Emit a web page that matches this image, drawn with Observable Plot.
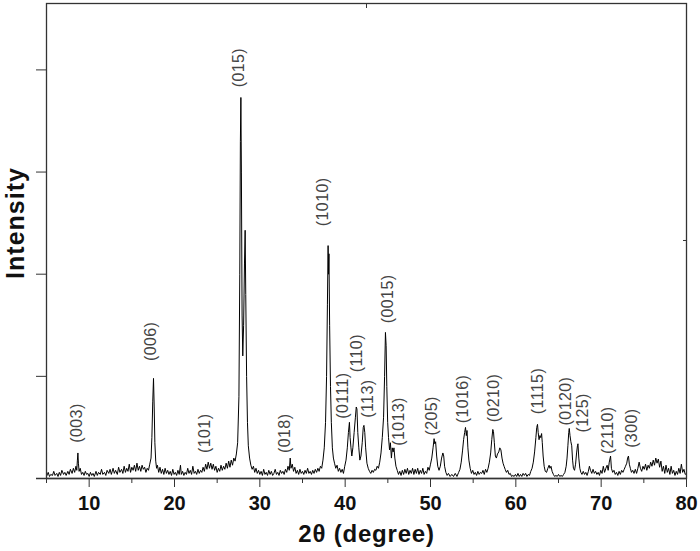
<!DOCTYPE html>
<html>
<head>
<meta charset="utf-8">
<script src="https://cdn.jsdelivr.net/npm/d3@7"></script>
<script src="https://cdn.jsdelivr.net/npm/@observablehq/plot@0.6"></script>
<style>
  html, body { margin: 0; padding: 0; background: #fff; }
</style>
</head>
<body>
<div id="chart"></div>
<script>
// XRD scan: [2θ (degree), intensity (a.u.)]
const scan = [
[5.0,.02],[5.2,.06],[5.35,.02],[5.5,.04],[5.7,.03],[5.85,.07],[6.0,.03],[6.2,.05],[6.35,.02],[6.5,.06],
[6.65,.03],[6.8,.08],[7.0,.04],[7.15,.06],[7.3,.03],[7.5,.07],[7.65,.04],[7.8,.09],[8.0,.05],[8.15,.1],
[8.3,.06],[8.45,.12],[8.55,.08],[8.62,.18],[8.68,.25],[8.74,.15],[8.82,.07],[8.95,.1],[9.1,.04],[9.25,.06],
[9.4,.03],[9.55,.07],[9.7,.04],[9.85,.05],[10.0,.02],[10.15,.06],[10.3,.03],[10.45,.05],[10.6,.02],[10.8,.07],
[10.95,.03],[11.1,.06],[11.3,.04],[11.45,.09],[11.6,.04],[11.8,.06],[11.95,.03],[12.1,.08],[12.3,.05],[12.45,.09],
[12.6,.04],[12.8,.1],[12.95,.05],[13.1,.08],[13.3,.04],[13.45,.11],[13.6,.06],[13.8,.09],[13.95,.05],[14.1,.12],
[14.25,.06],[14.4,.1],[14.55,.07],[14.7,.14],[14.85,.06],[15.0,.11],[15.15,.08],[15.3,.13],[15.45,.07],[15.6,.15],
[15.75,.08],[15.9,.12],[16.05,.07],[16.2,.13],[16.35,.09],[16.5,.11],[16.65,.06],[16.8,.1],[16.95,.08],[17.1,.14],
[17.25,.2],[17.35,.4],[17.45,.75],[17.54,.98],[17.62,.7],[17.7,.35],[17.8,.17],[17.9,.1],[18.0,.13],[18.15,.06],
[18.3,.11],[18.45,.05],[18.6,.09],[18.75,.04],[18.9,.1],[19.05,.05],[19.2,.08],[19.35,.04],[19.5,.07],[19.65,.03],
[19.8,.09],[19.95,.04],[20.1,.06],[20.25,.03],[20.4,.08],[20.55,.04],[20.7,.13],[20.8,.04],[20.95,.07],[21.1,.03],
[21.25,.06],[21.4,.04],[21.55,.1],[21.7,.05],[21.85,.08],[22.0,.04],[22.15,.12],[22.3,.05],[22.45,.07],[22.6,.04],
[22.75,.09],[22.9,.05],[23.05,.08],[23.2,.06],[23.35,.11],[23.5,.07],[23.65,.14],[23.8,.09],[23.95,.16],[24.1,.1],
[24.25,.15],[24.4,.09],[24.55,.14],[24.7,.08],[24.85,.12],[25.0,.06],[25.15,.1],[25.3,.07],[25.45,.13],[25.6,.08],
[25.75,.12],[25.9,.09],[26.05,.15],[26.2,.1],[26.35,.17],[26.5,.11],[26.65,.18],[26.8,.13],[26.95,.2],[27.1,.17],
[27.25,.24],[27.4,.35],[27.55,.8],[27.65,2.0],[27.72,3.3],[27.78,3.73],[27.84,3.0],[27.92,1.6],[28.0,1.2],[28.1,1.5],
[28.2,2.1],[28.28,2.43],[28.35,1.8],[28.45,1.0],[28.55,.55],[28.65,.32],[28.8,.2],[28.95,.13],[29.1,.09],[29.25,.12],
[29.4,.06],[29.55,.1],[29.7,.05],[29.85,.08],[30.0,.04],[30.15,.07],[30.3,.03],[30.45,.09],[30.6,.04],[30.75,.06],
[30.9,.03],[31.05,.08],[31.2,.04],[31.35,.07],[31.5,.03],[31.65,.05],[31.8,.09],[31.95,.04],[32.1,.06],[32.25,.03],
[32.4,.08],[32.55,.05],[32.7,.07],[32.85,.04],[33.0,.09],[33.15,.06],[33.3,.12],[33.45,.08],[33.56,.2],[33.65,.1],
[33.8,.14],[33.95,.07],[34.1,.11],[34.25,.05],[34.4,.08],[34.55,.04],[34.7,.09],[34.85,.05],[35.0,.07],[35.15,.04],
[35.3,.08],[35.45,.05],[35.6,.1],[35.75,.05],[35.9,.07],[36.05,.04],[36.2,.08],[36.35,.05],[36.5,.09],[36.65,.06],
[36.8,.1],[36.95,.07],[37.1,.12],[37.25,.1],[37.4,.18],[37.55,.3],[37.7,.55],[37.82,1.0],[37.92,1.7],[38.0,2.28],
[38.05,2.0],[38.1,2.2],[38.18,1.5],[38.28,.9],[38.38,.55],[38.5,.3],[38.62,.2],[38.75,.15],[38.9,.1],[39.05,.13],
[39.2,.07],[39.35,.1],[39.5,.06],[39.65,.09],[39.8,.05],[39.95,.12],[40.1,.18],[40.25,.3],[40.38,.45],[40.5,.55],
[40.58,.4],[40.68,.3],[40.78,.22],[40.9,.3],[41.05,.45],[41.2,.6],[41.3,.7],[41.38,.68],[41.48,.45],[41.6,.3],
[41.72,.18],[41.85,.22],[42.0,.35],[42.12,.5],[42.2,.52],[42.3,.45],[42.4,.3],[42.55,.15],[42.7,.1],[42.85,.07],
[43.0,.05],[43.15,.08],[43.3,.06],[43.45,.09],[43.6,.08],[43.75,.12],[43.9,.1],[44.05,.16],[44.2,.25],[44.35,.4],
[44.5,.6],[44.62,1.0],[44.72,1.43],[44.8,1.3],[44.88,.9],[44.98,.55],[45.08,.4],[45.2,.28],[45.3,.35],[45.42,.2],
[45.52,.3],[45.62,.26],[45.72,.3],[45.82,.2],[45.95,.12],[46.1,.08],[46.25,.04],[46.4,.07],[46.55,.03],[46.7,.08],
[46.85,.04],[47.0,.09],[47.15,.05],[47.3,.1],[47.45,.04],[47.6,.08],[47.75,.05],[47.9,.1],[48.05,.04],[48.2,.09],
[48.35,.05],[48.5,.1],[48.65,.04],[48.8,.08],[48.95,.05],[49.1,.1],[49.25,.04],[49.4,.07],[49.55,.05],[49.7,.11],
[49.85,.08],[50.0,.14],[50.15,.2],[50.3,.3],[50.42,.39],[50.5,.34],[50.6,.36],[50.72,.22],[50.85,.12],[51.0,.08],
[51.15,.12],[51.3,.2],[51.45,.25],[51.55,.22],[51.65,.12],[51.8,.06],[51.95,.03],[52.1,.05],[52.3,.02],[52.5,.04],
[52.7,.02],[52.9,.05],[53.1,.02],[53.3,.06],[53.45,.09],[53.6,.16],[53.75,.27],[53.88,.38],[54.0,.45],[54.1,.5],
[54.2,.42],[54.28,.47],[54.38,.3],[54.5,.18],[54.65,.1],[54.8,.05],[54.95,.08],[55.1,.04],[55.25,.06],[55.4,.03],
[55.55,.07],[55.7,.04],[55.85,.06],[56.0,.05],[56.15,.08],[56.3,.04],[56.45,.09],[56.6,.06],[56.75,.1],[56.9,.16],
[57.05,.25],[57.18,.38],[57.3,.48],[57.38,.46],[57.48,.35],[57.6,.22],[57.72,.2],[57.85,.24],[58.0,.26],[58.12,.3],
[58.25,.28],[58.38,.2],[58.5,.15],[58.62,.12],[58.75,.09],[58.9,.06],[59.05,.08],[59.2,.04],[59.35,.05],[59.5,.02],
[59.65,.03],[59.8,.02],[59.95,.04],[60.1,.02],[60.25,.05],[60.4,.02],[60.55,.04],[60.7,.02],[60.85,.05],[61.0,.03],
[61.15,.05],[61.3,.02],[61.45,.04],[61.6,.03],[61.75,.07],[61.9,.1],[62.05,.16],[62.2,.26],[62.35,.4],[62.45,.5],
[62.54,.53],[62.62,.45],[62.72,.38],[62.82,.42],[62.92,.4],[63.02,.44],[63.1,.35],[63.2,.22],[63.32,.12],[63.45,.07],
[63.6,.06],[63.75,.1],[63.9,.13],[64.0,.1],[64.12,.12],[64.25,.07],[64.4,.04],[64.55,.02],[64.7,.03],[64.85,.02],
[65.0,.04],[65.15,.02],[65.3,.03],[65.45,.02],[65.6,.04],[65.75,.06],[65.9,.12],[66.0,.2],[66.1,.32],[66.2,.45],
[66.26,.49],[66.35,.42],[66.45,.36],[66.55,.32],[66.65,.18],[66.75,.1],[66.88,.08],[67.0,.14],[67.12,.25],[67.22,.32],
[67.28,.34],[67.38,.2],[67.5,.1],[67.62,.06],[67.75,.04],[67.9,.07],[68.05,.04],[68.2,.06],[68.35,.03],[68.5,.07],
[68.62,.12],[68.75,.08],[68.9,.05],[69.05,.09],[69.2,.05],[69.35,.07],[69.5,.04],[69.65,.06],[69.8,.03],[69.95,.08],
[70.1,.05],[70.25,.12],[70.4,.06],[70.55,.1],[70.7,.13],[70.82,.08],[70.95,.16],[71.1,.22],[71.2,.1],[71.35,.06],
[71.5,.08],[71.65,.04],[71.8,.06],[71.95,.03],[72.1,.07],[72.25,.04],[72.4,.08],[72.55,.06],[72.7,.09],[72.85,.12],
[73.0,.15],[73.1,.2],[73.2,.22],[73.3,.14],[73.42,.1],[73.55,.06],[73.7,.08],[73.85,.05],[74.0,.09],[74.15,.05],
[74.3,.1],[74.45,.16],[74.6,.1],[74.75,.07],[74.9,.12],[75.05,.09],[75.2,.14],[75.35,.08],[75.5,.13],[75.65,.1],
[75.8,.16],[75.95,.12],[76.1,.18],[76.25,.13],[76.4,.2],[76.55,.15],[76.7,.19],[76.85,.11],[77.0,.17],[77.15,.07],
[77.3,.12],[77.45,.05],[77.6,.13],[77.75,.06],[77.9,.1],[78.05,.04],[78.2,.12],[78.35,.05],[78.5,.08],[78.65,.03],
[78.8,.07],[78.95,.04],[79.1,.1],[79.25,.05],[79.4,.14],[79.55,.06],[79.7,.09],[79.85,.04],[80.0,.05]
];

// Miller-index labels and where they sit (2θ, intensity at the label's lower end)
const hkl      = ["(003)","(006)","(101)","(015)","(018)","(1010)","(0111)","(110)","(113)","(0015)","(1013)","(205)","(1016)","(0210)","(1115)","(0120)","(125)","(2110)","(300)"];
const hklAngle = [8.56, 17.27, 23.6, 27.58, 32.97, 37.43, 39.77, 41.41, 42.7, 45.04, 46.33, 50.17, 53.8, 57.47, 62.63, 65.87, 67.9, 70.83, 73.6];
const hklLevel = [0.35, 1.15, 0.25, 3.83, 0.25, 2.47, 0.585, 1.04, 0.595, 1.52, 0.32, 0.42, 0.54, 0.55, 0.63, 0.52, 0.45, 0.24, 0.30];

const xMajorTicks = [10, 20, 30, 40, 50, 60, 70, 80];
const xMinorTicks = [5, 15, 25, 35, 45, 55, 65, 75];
const yTicks = [1, 2, 3, 4];
const topTicks = [42.5];
const rightTicks = [2.33];
const xDomain = [5, 80];
const yDomain = [0, 4.65];

const labels = hkl.map((t, i) => ({text: t, x: hklAngle[i], y: hklLevel[i]}));
const font = "'Liberation Sans', Arial, Helvetica, sans-serif";
const axisColor = "#333";
const noText = () => "";

const chart = Plot.plot({
  width: 700,
  height: 551,
  marginLeft: 46,
  marginRight: 14,
  marginTop: 3,
  marginBottom: 73,
  style: {fontFamily: font, background: "#fff", color: axisColor},
  x: {domain: xDomain},
  y: {domain: yDomain},
  marks: [
    Plot.line(scan, {x: d => d[0], y: d => d[1], stroke: "#000", strokeWidth: 1}),
    Plot.text(labels, {x: "x", y: "y", text: "text", rotate: -90, textAnchor: "start",
      fontSize: 16, fill: "#444", fontFamily: font, className: "hkl"}),
    Plot.frame({stroke: axisColor, strokeWidth: 1.3}),
    Plot.ruleY([0], {stroke: axisColor, strokeWidth: 1.3, insetLeft: -10}),
    Plot.axisX(xMajorTicks, {tickSize: 9, tickPadding: 8, fontSize: 20, fontWeight: "bold",
      stroke: axisColor, fill: "#111", label: null}),
    Plot.axisX(xMinorTicks, {tickSize: 5, tickFormat: noText, stroke: axisColor, label: null}),
    Plot.axisX(topTicks, {anchor: "top", tickSize: -4, tickFormat: noText, stroke: axisColor, label: null}),
    Plot.axisY(yTicks, {tickSize: 10, tickFormat: noText, stroke: axisColor, label: null}),
    Plot.axisY(rightTicks, {anchor: "right", tickSize: -4, tickFormat: noText, stroke: axisColor, label: null}),
    Plot.text(["Intensity"], {frameAnchor: "left", rotate: -90, dx: -31, dy: -18,
      textAnchor: "middle", lineAnchor: "middle",
      fontSize: 25, fontWeight: "bold", fill: "#111", className: "ytitle"}),
    Plot.text(["2θ (degree)"], {frameAnchor: "bottom", dy: 56,
      textAnchor: "middle", lineAnchor: "middle",
      fontSize: 24, fontWeight: "bold", fill: "#111", className: "xtitle"})
  ]
});
chart.querySelectorAll(".ytitle text").forEach(t => t.style.letterSpacing = "1px");
chart.querySelectorAll(".xtitle text").forEach(t => t.style.letterSpacing = "0.8px");
chart.querySelectorAll(".hkl text").forEach(t => t.style.letterSpacing = "0.4px");
document.getElementById("chart").appendChild(chart);
</script>
</body>
</html>
